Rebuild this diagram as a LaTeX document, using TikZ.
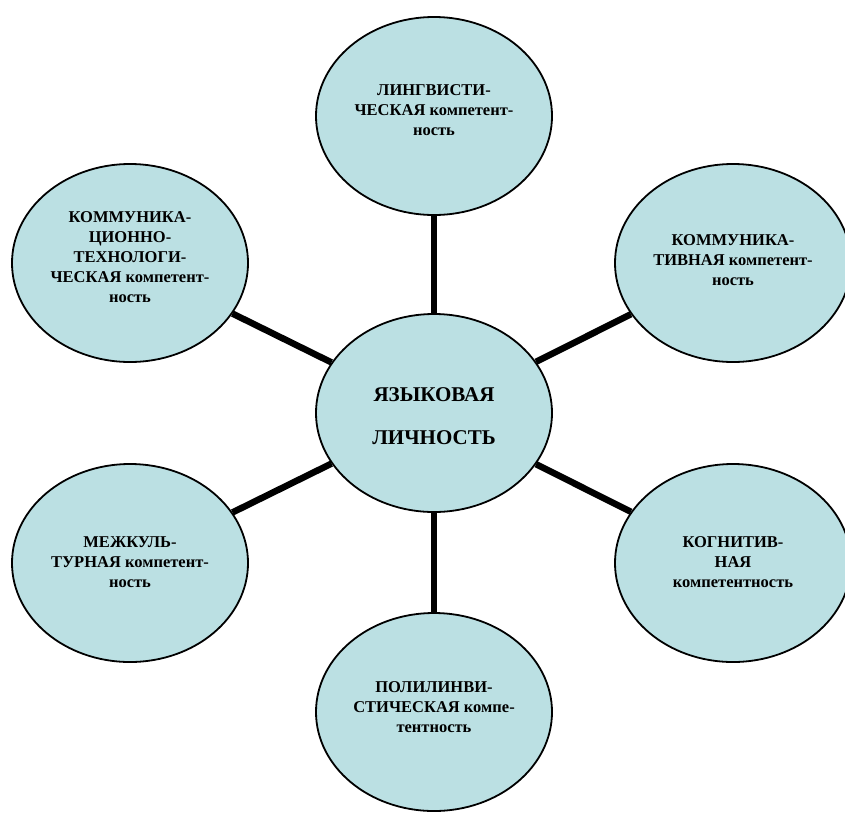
\documentclass[tikz,border=0pt]{standalone}
\usepackage{fontspec}
\setmainfont{Liberation Serif}
\usetikzlibrary{shapes.geometric}
\definecolor{bubble}{RGB}{187,224,227}
\tikzset{
  bub/.style={ellipse, draw=black, line width=1.8pt, fill=bubble,
    minimum width=236pt, minimum height=198pt, inner sep=0pt},
  txt/.style={align=center, inner sep=0pt, font=\bfseries\fontsize{16.5}{20}\selectfont},
  bigtxt/.style={align=center, inner sep=0pt, font=\bfseries\fontsize{21}{43}\selectfont},
  spoke/.style={line width=6.5pt, line cap=butt}
}
\begin{document}
\begin{tikzpicture}[x=1pt,y=-1pt]
\useasboundingbox (0,0) rectangle (845,812);
\node[bub] (c) at (434,413) {};
\node[bub] (t) at (434,116) {};
\node[bub] (tl) at (130,263) {};
\node[bub] (tr) at (733,263) {};
\node[bub] (bl) at (130,563) {};
\node[bub] (br) at (733,563) {};
\node[bub] (b) at (434,712) {};
\node[bigtxt] (ct) at (434,416) {ЯЗЫКОВАЯ\\ЛИЧНОСТЬ};
\node[txt] (tt) at (434,110) {ЛИНГВИСТИ-\\ЧЕСКАЯ компетент-\\ность};
\node[txt] (tlt) at (130,257) {КОММУНИКА-\\ЦИОННО-\\ТЕХНОЛОГИ-\\ЧЕСКАЯ компетент-\\ность};
\node[txt] (trt) at (733,260) {КОММУНИКА-\\ТИВНАЯ компетент-\\ность};
\node[txt] (blt) at (130,562) {МЕЖКУЛЬ-\\ТУРНАЯ компетент-\\ность};
\node[txt] (brt) at (733,562) {КОГНИТИВ-\\НАЯ\\компетентность};
\node[txt] (bt) at (434,707) {ПОЛИЛИНВИ-\\СТИЧЕСКАЯ компе-\\тентность};
\draw[spoke] (c) -- (t);
\draw[spoke] (c) -- (tl);
\draw[spoke] (c) -- (tr);
\draw[spoke] (c) -- (bl);
\draw[spoke] (c) -- (br);
\draw[spoke] (c) -- (b);
\end{tikzpicture}
\end{document}
